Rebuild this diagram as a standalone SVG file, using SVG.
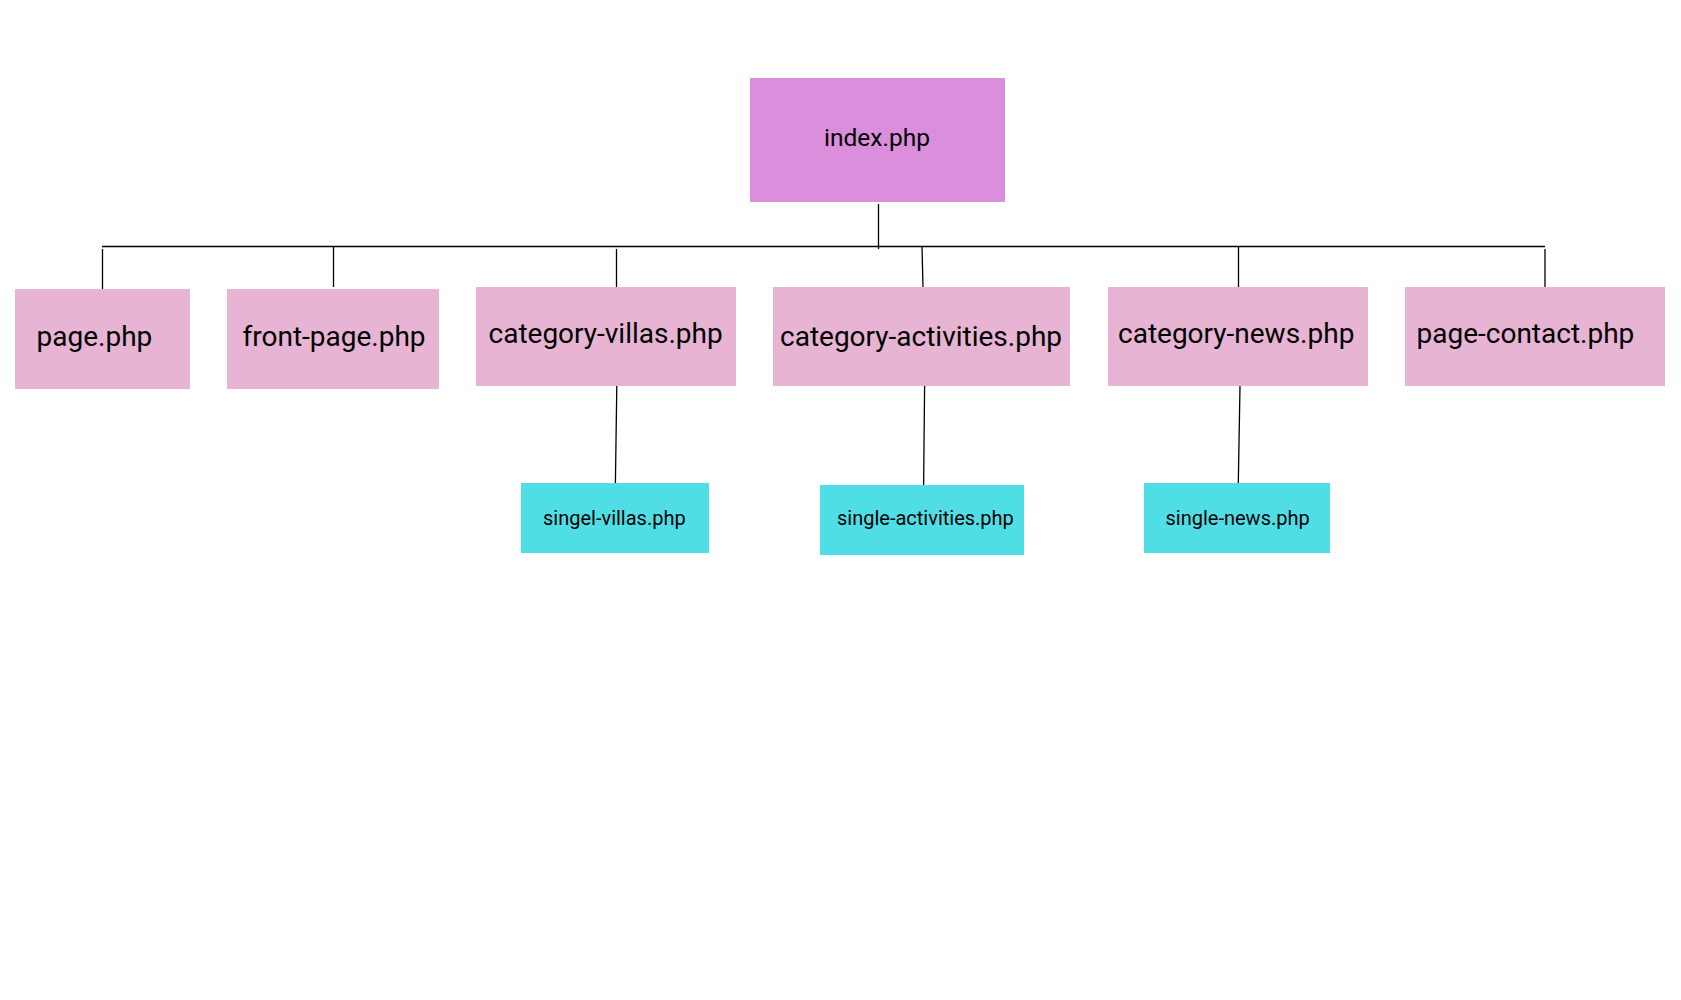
<svg xmlns="http://www.w3.org/2000/svg" width="1681" height="1000" viewBox="0 0 1681 1000">
<style>
.root{fill:#DA8EDC}
.cat{fill:#E8B4D3}
.single{fill:#50DEE6}
text{font-family:Roboto,"Liberation Sans",sans-serif;fill:#000}
.t1{font-size:24.5px}
.t2{font-size:28px}
.t3{font-size:20px}
.conn line{stroke:#000;stroke-width:1.3;fill:none}
</style>
<rect width="1681" height="1000" fill="#fff"/>
<g id="connectors" class="conn">
<line x1="102" y1="246.5" x2="1545" y2="246.5"/>
<line x1="878.5" y1="204" x2="878.5" y2="249"/>
<line x1="102.5" y1="249" x2="102.5" y2="289"/>
<line x1="333.5" y1="246" x2="333.5" y2="287"/>
<line x1="616.5" y1="249" x2="616.5" y2="288"/>
<line x1="922" y1="246" x2="923" y2="287"/>
<line x1="1238.5" y1="246" x2="1238.5" y2="287"/>
<line x1="1545" y1="249" x2="1545" y2="289"/>
<line x1="616.8" y1="386" x2="615.4" y2="483"/>
<line x1="924.6" y1="386" x2="923.6" y2="486"/>
<line x1="1240" y1="386" x2="1238.3" y2="483"/>
</g>
<g id="index">
<rect class="root" x="750" y="78" width="255" height="124"/>
<text class="t1" x="824" y="146">index.php</text>
</g>
<g id="page">
<rect class="cat" x="15" y="289" width="175" height="100"/>
<text class="t2" x="36.5" y="346">page.php</text>
</g>
<g id="front-page">
<rect class="cat" x="227" y="289" width="212" height="100"/>
<text class="t2" x="242.5" y="346">front-page.php</text>
</g>
<g id="category-villas">
<rect class="cat" x="476" y="287" width="260" height="99"/>
<text class="t2" x="488.5" y="343">category-villas.php</text>
</g>
<g id="category-activities">
<rect class="cat" x="773" y="287" width="297" height="99"/>
<text class="t2" x="780" y="346">category-activities.php</text>
</g>
<g id="category-news">
<rect class="cat" x="1108" y="287" width="260" height="99"/>
<text class="t2" x="1118" y="343">category-news.php</text>
</g>
<g id="page-contact">
<rect class="cat" x="1405" y="287" width="260" height="99"/>
<text class="t2" x="1416.5" y="343">page-contact.php</text>
</g>
<g id="singel-villas">
<rect class="single" x="521" y="483" width="188" height="70"/>
<text class="t3" x="543" y="525">singel-villas.php</text>
</g>
<g id="single-activities">
<rect class="single" x="820" y="485" width="204" height="70"/>
<text class="t3" x="837" y="525">single-activities.php</text>
</g>
<g id="single-news">
<rect class="single" x="1144" y="483" width="186" height="70"/>
<text class="t3" x="1165.5" y="525">single-news.php</text>
</g>
</svg>
